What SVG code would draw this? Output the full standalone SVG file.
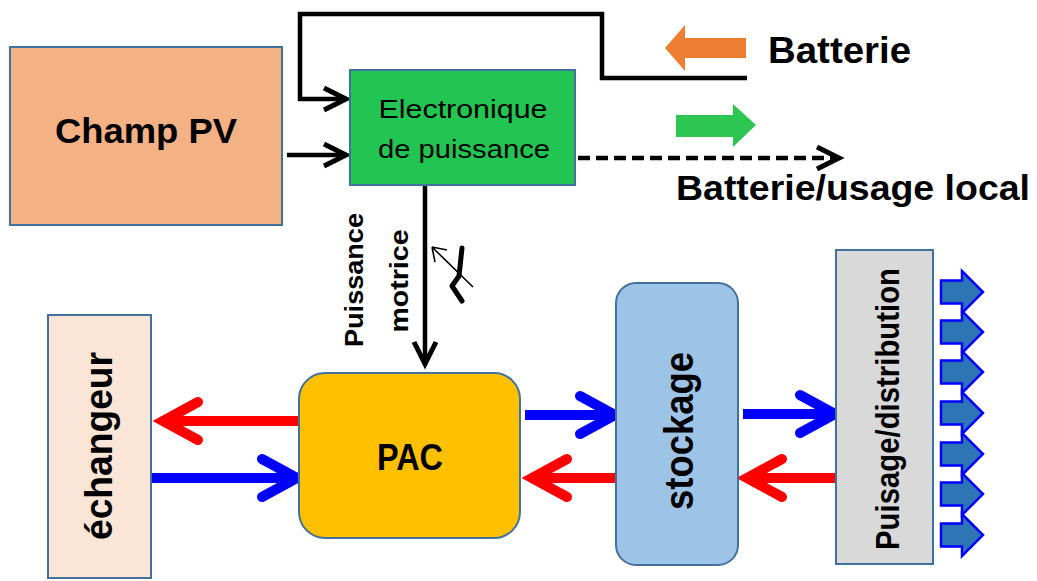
<svg xmlns="http://www.w3.org/2000/svg" width="1037" height="581" viewBox="0 0 1037 581">
<style>
.box{stroke:#41719c;stroke-width:2}
.t{font-family:"Liberation Sans",Arial,sans-serif;fill:#000}
.b{font-weight:bold}
.blk{fill:none;stroke:#000;stroke-width:4.5}
.red{fill:none;stroke:#ff0000;stroke-width:10}
.blue{fill:none;stroke:#0000ff;stroke-width:10}
.out{fill:#2e75b6;stroke:#0000ff;stroke-width:2.5}
</style>
<defs>
<marker id="chevK" markerUnits="userSpaceOnUse" orient="auto" refX="0" refY="0" markerWidth="1" markerHeight="1" overflow="visible">
<path d="M-22,-11 L0,0 L-22,11" fill="none" stroke="#000" stroke-width="5"/>
</marker>
<marker id="chevR" markerUnits="userSpaceOnUse" orient="auto" refX="0" refY="0" markerWidth="1" markerHeight="1" overflow="visible">
<path d="M-35,-19 L0,0 L-35,19" fill="none" stroke="#ff0000" stroke-width="10" stroke-linecap="round"/>
</marker>
<marker id="chevB" markerUnits="userSpaceOnUse" orient="auto" refX="0" refY="0" markerWidth="1" markerHeight="1" overflow="visible">
<path d="M-35,-19 L0,0 L-35,19" fill="none" stroke="#0000ff" stroke-width="10" stroke-linecap="round"/>
</marker>
<path id="outArrow" class="out" d="M0,-11.5 H21 V-21 L42,0 L21,21 V11.5 H0 Z"/>
</defs>

<g id="connectors">
<path class="blk" d="M747,78 H602 V14 H300 V99 H346" marker-end="url(#chevK)"/>
<path class="blk" d="M287,155 H346" marker-end="url(#chevK)"/>
<path class="blk" d="M578,158 H839" stroke-dasharray="12,6" marker-end="url(#chevK)"/>
<path class="blk" d="M425,185 V364" marker-end="url(#chevK)"/>
<path class="red" d="M299,421 H163" marker-end="url(#chevR)"/>
<path class="blue" d="M152,478 H297" marker-end="url(#chevB)"/>
<path class="blue" d="M525,415 H615" marker-end="url(#chevB)"/>
<path class="red" d="M616,478 H532" marker-end="url(#chevR)"/>
<path class="blue" d="M743,414 H835" marker-end="url(#chevB)"/>
<path class="red" d="M837,478 H747" marker-end="url(#chevR)"/>
</g>

<g id="champ-pv">
<rect class="box" x="10" y="47" width="272" height="178" fill="#f4b183"/>
<text class="t b" x="146" y="143" font-size="35" text-anchor="middle" textLength="182" lengthAdjust="spacingAndGlyphs">Champ PV</text>
</g>

<g id="electronique">
<rect class="box" x="350" y="70" width="225" height="115" fill="#23c552"/>
<text class="t" x="463" y="118" font-size="26" text-anchor="middle" textLength="169" lengthAdjust="spacingAndGlyphs">Electronique</text>
<text class="t" x="464" y="158" font-size="26" text-anchor="middle" textLength="172" lengthAdjust="spacingAndGlyphs">de puissance</text>
</g>

<g id="batterie-in">
<polygon points="665,48 685,25 685,38 746,38 746,58 685,58 685,71" fill="#ed7d31"/>
<text class="t b" x="768" y="63" font-size="36" textLength="143" lengthAdjust="spacingAndGlyphs">Batterie</text>
</g>

<g id="batterie-out">
<polygon points="676,115 733,115 733,104 756,125 733,147 733,137 676,137" fill="#2dc653"/>
<text class="t b" x="676" y="200" font-size="35" textLength="354" lengthAdjust="spacingAndGlyphs">Batterie/usage local</text>
</g>

<g id="puissance-motrice">
<text class="t b" font-size="25" text-anchor="middle" transform="translate(363,280) rotate(-90)" textLength="134" lengthAdjust="spacingAndGlyphs">Puissance</text>
<text class="t b" font-size="25" text-anchor="middle" transform="translate(408,281) rotate(-90)" textLength="103" lengthAdjust="spacingAndGlyphs">motrice</text>
<polyline points="462,248 459,276 452,286 462,301" fill="none" stroke="#000" stroke-width="5" stroke-linecap="round" stroke-linejoin="round"/>
<path d="M473,287 L432,247 M432,247 L447,250 M432,247 L435,262" fill="none" stroke="#000" stroke-width="1.6"/>
</g>

<g id="echangeur">
<rect class="box" x="48" y="315" width="103" height="263" fill="#fbe5d6"/>
<text class="t b" font-size="38" text-anchor="middle" transform="translate(112,446) rotate(-90)" textLength="188" lengthAdjust="spacingAndGlyphs">échangeur</text>
</g>

<g id="pac">
<rect class="box" x="299" y="373" width="221" height="165" rx="26" fill="#ffc000"/>
<text class="t b" x="410" y="470" font-size="37" text-anchor="middle" textLength="66" lengthAdjust="spacingAndGlyphs">PAC</text>
</g>

<g id="stockage">
<rect class="box" x="616" y="283" width="122" height="282" rx="20" fill="#9dc3e6"/>
<text class="t b" font-size="40" text-anchor="middle" transform="translate(693,431) rotate(-90)" textLength="158" lengthAdjust="spacingAndGlyphs">stockage</text>
</g>

<g id="puisage">
<rect class="box" x="836" y="250" width="97" height="314" fill="#d9d9d9"/>
<text class="t b" font-size="33" text-anchor="middle" transform="translate(899,409) rotate(-90)" textLength="282" lengthAdjust="spacingAndGlyphs">Puisage/distribution</text>
</g>

<g id="sorties">
<use href="#outArrow" x="941" y="292"/>
<use href="#outArrow" x="941" y="332"/>
<use href="#outArrow" x="941" y="372"/>
<use href="#outArrow" x="941" y="413"/>
<use href="#outArrow" x="941" y="454"/>
<use href="#outArrow" x="941" y="494"/>
<use href="#outArrow" x="941" y="535"/>
</g>
</svg>
